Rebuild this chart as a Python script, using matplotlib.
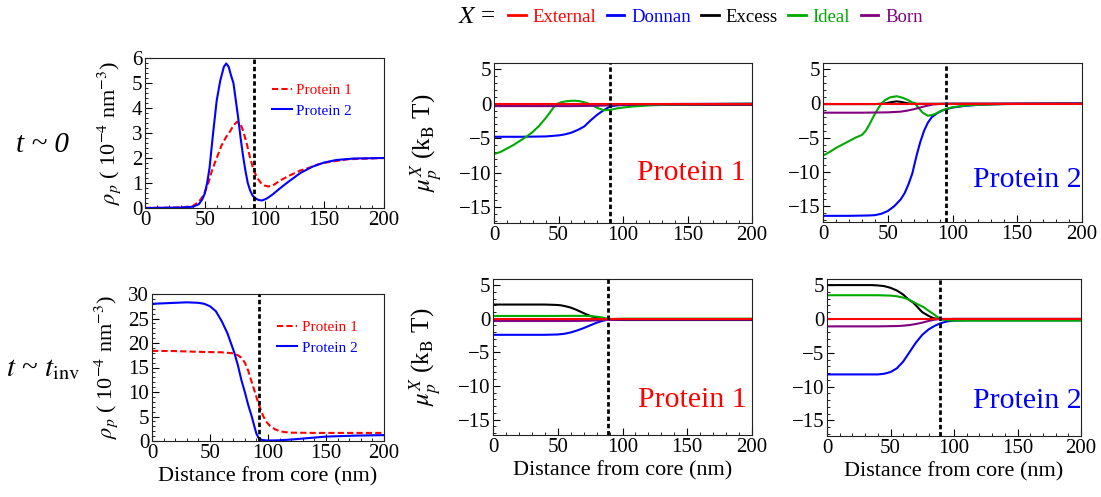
import matplotlib.pyplot as plt
from matplotlib.ticker import MultipleLocator
from matplotlib.lines import Line2D

plt.rcParams['font.family'] = ['Liberation Serif', 'DejaVu Serif']
plt.rcParams['mathtext.fontset'] = 'stix'

# ---- density profiles, t ~ 0 ----
rho0_p1_x = [0, 30, 40, 45, 49, 53, 56, 60, 64, 68, 71, 74, 77, 80, 82, 85, 88, 91, 94, 97, 100,
             103, 107, 110, 115, 121, 130, 138, 145, 155, 170, 200]
rho0_p1_y = [0, 0.02, 0.08, 0.25, 0.5, 1.0, 1.5, 2.0, 2.5, 2.85, 3.05, 3.3, 3.45, 3.35, 3.1, 2.6,
             2.0, 1.5, 1.2, 1.0, 0.9, 0.86, 0.9, 1.0, 1.15, 1.3, 1.5, 1.62, 1.75, 1.85, 1.95, 2.0]
rho0_p2_x = [0, 30, 40, 45, 48, 50, 52, 54, 57, 60, 63, 66, 68, 70, 72, 74, 76, 78, 80, 82, 84, 86,
             88, 90, 92, 95, 98, 102, 107, 112, 120, 130, 140, 150, 160, 175, 200]
rho0_p2_y = [0, 0.02, 0.05, 0.15, 0.35, 0.58, 1.0, 1.6, 3.0, 4.3, 5.1, 5.65, 5.78, 5.65, 5.3, 5.0,
             4.3, 3.6, 2.8, 2.1, 1.5, 1.0, 0.7, 0.5, 0.4, 0.32, 0.3, 0.38, 0.55, 0.75, 1.05, 1.4,
             1.65, 1.82, 1.92, 1.98, 2.0]

# ---- density profiles, t ~ t_inv ----
rhoi_p1_x = [0, 20, 40, 60, 70, 74, 77, 80, 83, 86, 88, 90, 92, 94, 96, 99, 102, 106, 110, 115,
             120, 140, 200]
rhoi_p1_y = [18.4, 18.35, 18.2, 18.1, 17.9, 17.5, 17.0, 16.0, 14.3, 12.0, 10.5, 9.0, 7.5, 6.2,
             5.0, 3.8, 3.0, 2.4, 2.0, 1.8, 1.7, 1.65, 1.65]
rhoi_p2_x = [0, 10, 20, 30, 40, 45, 50, 55, 60, 65, 68, 71, 74, 77, 80, 83, 86, 88, 90, 92, 95,
             100, 110, 120, 135, 150, 175, 200]
rhoi_p2_y = [28.0, 28.1, 28.2, 28.3, 28.2, 28.0, 27.5, 26.5, 24.5, 22.0, 20.0, 18.0, 15.5, 12.5,
             10.0, 7.3, 5.0, 3.2, 1.5, 0.6, 0.2, 0.1, 0.15, 0.3, 0.6, 0.9, 1.1, 1.2]

# ---- chemical potential contributions: {name: (x, y)} per panel ----
mu0_p1 = {
    'External': ([0, 200], [-0.1, -0.1]),
    'Donnan': ([0, 20, 40, 50, 55, 60, 65, 70, 75, 80, 85, 90, 95, 100, 110, 120, 140, 200],
               [-4.8, -4.8, -4.75, -4.6, -4.45, -4.2, -3.8, -3.3, -2.4, -1.6, -0.95, -0.4, -0.25,
                -0.18, -0.12, -0.08, -0.04, 0]),
    'Excess': ([0, 50, 65, 80, 200], [-0.15, -0.1, -0.05, -0.15, -0.15]),
    'Ideal': ([0, 5, 10, 15, 20, 25, 30, 35, 40, 44, 48, 52, 56, 60, 63, 66, 70, 75, 80, 85, 90, 95,
               100, 108, 120, 140, 170, 200],
              [-7.3, -7.0, -6.5, -6.0, -5.4, -4.8, -4.1, -3.2, -2.1, -1.1, -0.1, 0.2, 0.35, 0.42,
               0.43, 0.38, 0.2, -0.1, -0.6, -0.95, -0.9, -0.7, -0.55, -0.4, -0.25, -0.12, -0.05, 0]),
    'Born': ([0, 60, 80, 95, 110, 200], [-0.35, -0.35, -0.3, -0.2, -0.1, -0.1]),
}
mu0_p2 = {
    'External': ([0, 200], [-0.05, -0.05]),
    'Donnan': ([0, 20, 35, 40, 45, 50, 55, 60, 63, 66, 69, 72, 75, 78, 81, 84, 88, 92, 96, 100, 110,
                120, 140, 200],
               [-16.4, -16.4, -16.35, -16.3, -16.1, -15.7, -15.0, -14.0, -13.1, -11.8, -10.2, -7.8,
                -5.7, -4.0, -2.8, -2.0, -1.45, -1.05, -0.8, -0.6, -0.35, -0.2, -0.08, 0]),
    'Excess': ([0, 40, 48, 53, 57, 61, 66, 72, 200], [-0.1, -0.1, 0.0, 0.2, 0.3, 0.2, 0.0, -0.05, -0.05]),
    'Ideal': ([0, 5, 10, 15, 20, 25, 30, 33, 36, 39, 42, 45, 48, 52, 57, 62, 66, 69, 71, 74, 77, 81,
               85, 88, 92, 96, 100, 110, 120, 140, 170, 200],
              [-7.6, -7.1, -6.5, -6.0, -5.5, -5.0, -4.6, -4.0, -3.0, -1.9, -0.9, -0.05, 0.5, 0.9,
               1.05, 0.8, 0.45, 0.15, 0.0, -0.7, -1.35, -1.8, -1.65, -1.4, -1.0, -0.75, -0.55,
               -0.3, -0.2, -0.1, -0.03, 0]),
    'Born': ([0, 30, 50, 60, 65, 70, 75, 80, 85, 90, 100, 200],
             [-1.35, -1.35, -1.3, -1.2, -1.05, -0.85, -0.6, -0.35, -0.15, -0.08, -0.03, 0]),
}
mui_p1 = {
    'External': ([0, 200], [-0.1, -0.1]),
    'Donnan': ([0, 40, 50, 55, 60, 65, 70, 75, 80, 85, 90, 95, 100, 200],
               [-2.4, -2.4, -2.35, -2.25, -2.05, -1.75, -1.4, -1.0, -0.6, -0.3, -0.1, -0.1, -0.1, -0.1]),
    'Excess': ([0, 40, 48, 52, 56, 60, 64, 68, 72, 76, 80, 84, 88, 92, 100, 200],
               [2.1, 2.1, 2.05, 2.0, 1.85, 1.65, 1.35, 1.0, 0.65, 0.35, 0.15, 0.0, -0.1, -0.15, -0.2, -0.2]),
    'Ideal': ([0, 40, 60, 70, 75, 80, 85, 88, 92, 100, 200],
              [0.4, 0.4, 0.42, 0.42, 0.38, 0.3, 0.15, 0.0, -0.05, 0.0, 0.0]),
    'Born': ([0, 60, 75, 85, 95, 200], [-0.35, -0.35, -0.3, -0.2, -0.15, -0.15]),
}
mui_p2 = {
    'External': ([0, 200], [0.0, 0.0]),
    'Donnan': ([0, 40, 45, 50, 55, 60, 65, 70, 75, 80, 85, 90, 95, 100, 110, 200],
               [-8.2, -8.2, -8.1, -7.85, -7.3, -6.3, -4.9, -3.5, -2.35, -1.55, -1.0, -0.6, -0.35,
                -0.25, -0.2, -0.2]),
    'Excess': ([0, 35, 40, 45, 50, 55, 60, 64, 68, 72, 75, 80, 84, 88, 92, 100, 200],
               [5.0, 5.0, 4.95, 4.85, 4.6, 4.2, 3.6, 2.9, 2.4, 1.6, 1.0, 0.45, 0.1, 0.0, -0.05, 0.0, 0.0]),
    'Ideal': ([0, 40, 50, 55, 60, 64, 68, 72, 76, 80, 84, 88, 90, 95, 100, 200],
              [3.5, 3.5, 3.45, 3.35, 3.15, 2.9, 2.5, 2.1, 1.75, 1.2, 0.7, 0.15, -0.05, -0.2, -0.25, -0.25]),
    'Born': ([0, 40, 55, 60, 65, 70, 75, 80, 85, 90, 200],
             [-1.1, -1.1, -1.05, -1.0, -0.9, -0.75, -0.55, -0.3, -0.1, 0.0, 0.0]),
}

# position of the dashed marker line in each panel (nm)
edge_rho0, edge_mu0_p1, edge_mu0_p2 = 91.5, 90, 95
edge_rhoi, edge_mui_p1, edge_mui_p2 = 92, 88.5, 89

names = ['External', 'Donnan', 'Excess', 'Ideal', 'Born']
draw_order = ['Excess', 'Donnan', 'Ideal', 'Born', 'External']
colors = {'External': '#ff0000', 'Donnan': '#0000ff', 'Excess': '#000000',
          'Ideal': '#00aa00', 'Born': '#800080'}

W, H = 1101, 497
fig = plt.figure(figsize=(W / 100, H / 100), dpi=100)


def box(l, t, r, b):
    return [l / W, 1 - b / H, (r - l) / W, (b - t) / H]


def style(ax, ylim, ymaj, yminor):
    ax.set_xlim(0, 200)
    ax.set_ylim(*ylim)
    ax.xaxis.set_major_locator(MultipleLocator(50))
    ax.xaxis.set_minor_locator(MultipleLocator(10))
    ax.yaxis.set_major_locator(MultipleLocator(ymaj))
    ax.yaxis.set_minor_locator(MultipleLocator(yminor))
    ax.tick_params(which='both', direction='in', top=False, right=False, labelsize=15, pad=2)
    ax.tick_params(which='major', length=5, width=0.8)
    ax.tick_params(which='minor', length=2.5, width=0.6)
    for s in ax.spines.values():
        s.set_linewidth(0.8)
        s.set_color('#222222')


def edge(ax, x):
    ax.axvline(x, color='black', lw=2, dashes=(1.6, 1.0), zorder=5)


def rho_panel(rect, p1x, p1y, p2x, p2y, ylim, ymaj, yminor, e, leg_anchor, ylab_x):
    ax = fig.add_axes(box(*rect))
    ax.plot(p1x, p1y, color='#ff0000', lw=1.5, dashes=(3, 1.5), label='Protein 1')
    ax.plot(p2x, p2y, color='#0000ff', lw=1.5, label='Protein 2')
    edge(ax, e)
    style(ax, ylim, ymaj, yminor)
    ax.set_ylabel(r'$\rho_p$ ( 10$^{-4}$ nm$^{-3}$)', fontsize=16)
    ax.yaxis.set_label_coords(ylab_x, 0.5)
    leg = ax.legend(loc='upper left', bbox_to_anchor=leg_anchor, frameon=False, fontsize=11,
                    handlelength=1.3, handletextpad=0.3, borderpad=0, borderaxespad=0,
                    labelspacing=0.45)
    for t, c in zip(leg.get_texts(), ['#ff0000', '#0000ff']):
        t.set_color(c)
    return ax


def mu_panel(rect, data, e, label, lcolor, txt_pos, ylab=True):
    ax = fig.add_axes(box(*rect))
    for n in draw_order:
        x, y = data[n]
        ax.plot(x, y, color=colors[n], lw=1.5)
    edge(ax, e)
    style(ax, (-17.3, 5.9), 5, 1)
    ax.text(txt_pos[0], txt_pos[1], label, color=lcolor, fontsize=21.5,
            transform=ax.transAxes, va='baseline', ha='left')
    if ylab:
        ax.set_ylabel(r'$\mu_p^X$ (k$_\mathrm{B}$ T)', fontsize=18)
        ax.yaxis.set_label_coords(-0.19, 0.5)
    return ax


# top row (t ~ 0)
rho_panel((145, 58, 384, 208), rho0_p1_x, rho0_p1_y, rho0_p2_x, rho0_p2_y,
          (0, 6), 1, 0.2, edge_rho0, (0.53, 0.83), -0.092)
mu_panel((494, 63, 752, 223), mu0_p1, edge_mu0_p1, 'Protein 1', '#ff0000', (0.555, 0.27))
mu_panel((823, 63, 1082, 222), mu0_p2, edge_mu0_p2, 'Protein 2', '#0000ff', (0.58, 0.22), ylab=False)

# bottom row (t ~ t_inv)
axb1 = rho_panel((152, 294, 384, 441), rhoi_p1_x, rhoi_p1_y, rhoi_p2_x, rhoi_p2_y,
                 (0, 30), 5, 1, edge_rhoi, (0.54, 0.82), -0.138)
axb2 = mu_panel((493, 279, 752, 435), mui_p1, edge_mui_p1, 'Protein 1', '#ff0000', (0.56, 0.18))
axb3 = mu_panel((827, 279, 1081, 436), mui_p2, edge_mui_p2, 'Protein 2', '#0000ff', (0.575, 0.178),
                ylab=False)
for ax in (axb1, axb2, axb3):
    ax.set_xlabel('Distance from core (nm)', fontsize=16, labelpad=3)

# row labels
fig.text(42 / W, 1 - 145 / H, 't ~ 0', fontsize=21, style='italic', ha='center', va='center')
fig.text(43 / W, 1 - 369 / H, r'$t$ ~ $t_{\mathrm{inv}}$', fontsize=21, ha='center', va='center')

# top legend
fig.text(458 / W, 1 - 17 / H, r'$X$ =', fontsize=18, ha='left', va='center')
handles = [Line2D([], [], color=colors[n], lw=2) for n in names]
fig.legend(handles, names, loc='center left', bbox_to_anchor=(508 / W, 1 - 17 / H), ncol=5,
           frameon=False, fontsize=13.5, handlelength=0.95, handletextpad=0.36, columnspacing=0.55,
           labelcolor=[colors[n] for n in names], borderpad=0, borderaxespad=0)

fig.savefig('out.png', dpi=100)
